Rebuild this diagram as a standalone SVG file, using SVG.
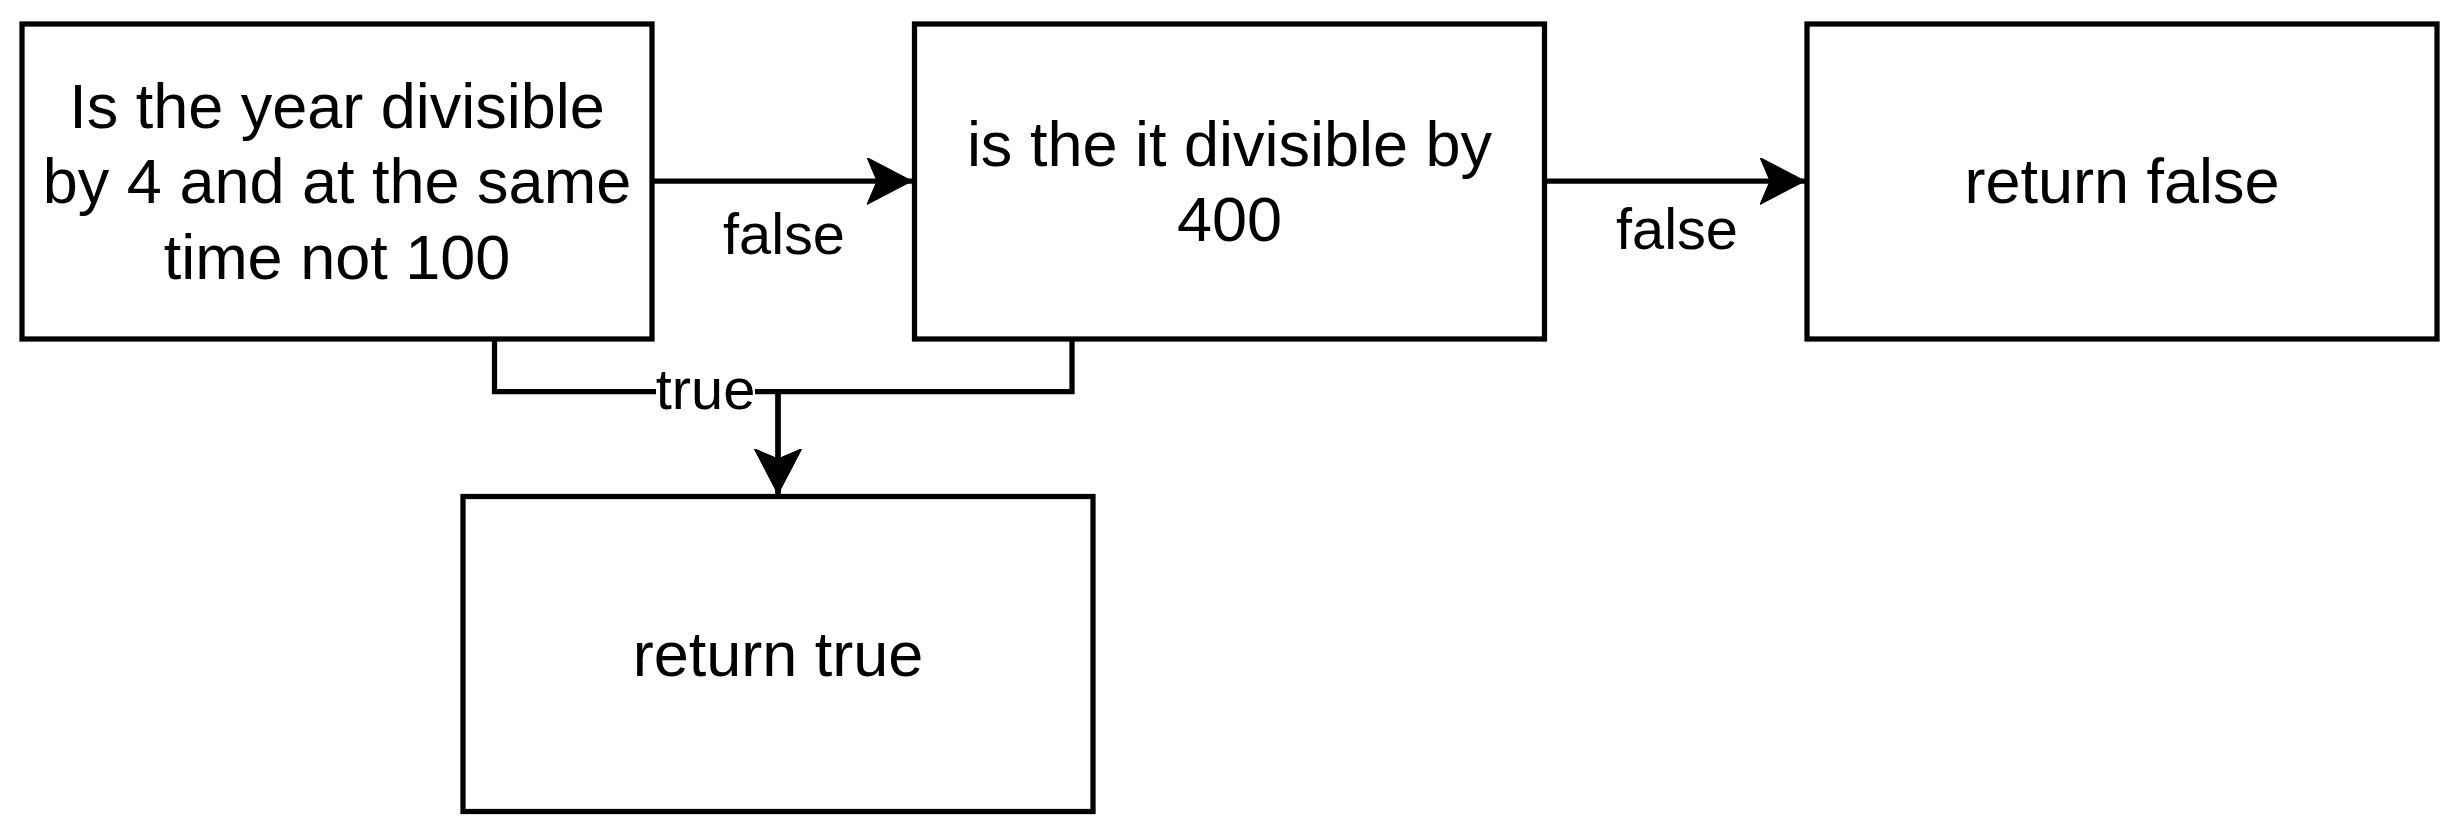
<svg xmlns="http://www.w3.org/2000/svg" width="2462" height="833" viewBox="0 0 2462 833">
<style>
.box{fill:#fff;stroke:#000;stroke-width:5.25}
.t{font-family:"Liberation Sans",Arial,Helvetica,sans-serif;font-size:63px;fill:#000;text-anchor:middle}
.lbl{font-family:"Liberation Sans",Arial,Helvetica,sans-serif;font-size:57.75px;fill:#000;text-anchor:middle}
.edge{fill:none;stroke:#000;stroke-width:5.25}
</style>
<defs>
<marker id="arr" markerUnits="userSpaceOnUse" markerWidth="48" markerHeight="48" refX="45" refY="23.5" orient="auto" viewBox="0 0 48 48">
<path d="M0,0 L45,23.5 L0,47 L10,23.5 Z" fill="#000" stroke="#000" stroke-width="1"/>
</marker>
</defs>
<rect width="2462" height="833" fill="#fff"/>
<g id="connectors">
<line class="edge" x1="652" y1="181" x2="912" y2="181" marker-end="url(#arr)"/>
<line class="edge" x1="1545" y1="181" x2="1805" y2="181" marker-end="url(#arr)"/>
<path class="edge" d="M494.5 338 V391.5 H778 V494" marker-end="url(#arr)"/>
<path class="edge" d="M1072 338 V391.5 H778 V494" marker-end="url(#arr)"/>
<text class="lbl" x="784" y="254">false</text>
<text class="lbl" x="1677" y="249">false</text>
<rect x="656" y="370" width="99" height="40" fill="#fff"/>
<text class="lbl" x="705.5" y="409">true</text>
</g>
<g id="node1">
<rect class="box" x="22" y="24" width="630" height="315"/>
<text class="t" x="337" y="127.7">Is the year divisible</text>
<text class="t" x="337" y="203.3">by 4 and at the same</text>
<text class="t" x="337" y="278.9">time not 100</text>
</g>
<g id="node2">
<rect class="box" x="914.5" y="24" width="630" height="315"/>
<text class="t" x="1229.5" y="165.5">is the it divisible by</text>
<text class="t" x="1229.5" y="241.1">400</text>
</g>
<g id="node3">
<rect class="box" x="1807" y="24" width="630" height="315"/>
<text class="t" x="2122" y="203.3">return false</text>
</g>
<g id="node4">
<rect class="box" x="463" y="496.5" width="630" height="315"/>
<text class="t" x="778" y="675.8">return true</text>
</g>
</svg>
